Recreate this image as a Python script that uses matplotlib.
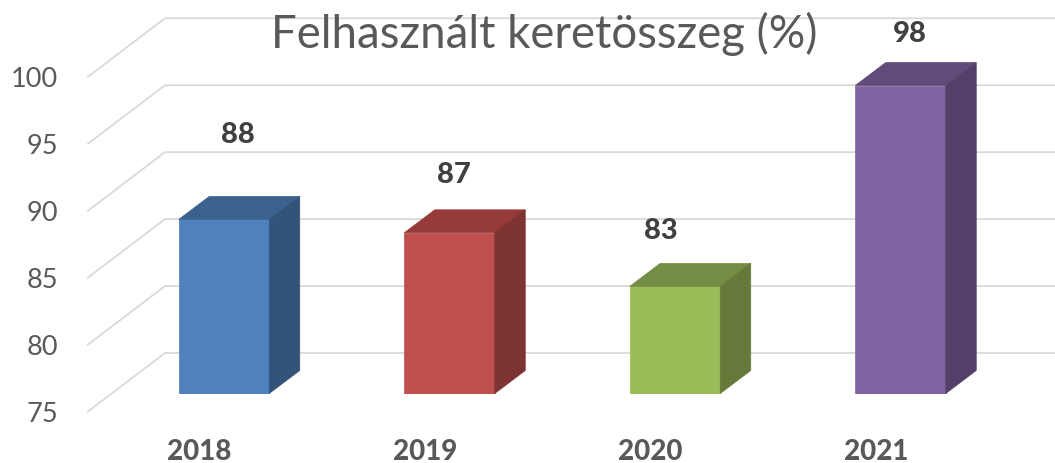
import numpy as np
import matplotlib
matplotlib.use("Agg")
import matplotlib.pyplot as plt
from matplotlib.patches import Polygon, Rectangle
from matplotlib.transforms import ScaledTranslation

TITLE = "Felhasznált keretösszeg (%)"
years = ["2018", "2019", "2020", "2021"]
values = [88, 87, 83, 98]
y_ticks = [75, 80, 85, 90, 95, 100]
front_colors = ["#4f81bd", "#c0504d", "#9bbb59", "#8064a2"]
top_colors = ["#3b618e", "#953a38", "#748c43", "#604b7a"]
side_colors = ["#325479", "#7c3331", "#64793a", "#524069"]
label_offsets_px = [(14, 21), (4, -5), (-14, -8), (9, -11)]

W, H = 1055, 463
DPI = 100
plt.rcParams["font.family"] = ["Lato", "DejaVu Sans"]
fig = plt.figure(figsize=(W / DPI, H / DPI), dpi=DPI, facecolor="white")

PX_X = 225.5
PX_Y = 13.39
X0, BASE = 224.0, 393.5
L = 88.0
ax = fig.add_axes([L / W, (H - BASE) / H, (W - L) / W, BASE / H])
ax.set_xlim((L - X0) / PX_X, (W - X0) / PX_X)
ax.set_ylim(75, 75 + BASE / PX_Y)
for s in ax.spines.values():
    s.set_visible(False)
ax.patch.set_alpha(0)

bw = 90.5 / PX_X
dx = 30.5 / PX_X
dy = 23 / PX_Y

# walls and gridlines
x_front, x_back, x_end = ax.get_xlim()[0], (165 - X0) / PX_X, ax.get_xlim()[1]
for v in y_ticks:
    yb = v + 40.5 / PX_Y
    yf = v - 18 / PX_Y
    ax.plot([x_front, x_back, x_end], [yf, yb, yb], color="#d9d9d9", lw=1.3,
            clip_on=False, zorder=1, solid_joinstyle="miter")

# bars
for i, (v, cf, ct, cs) in enumerate(zip(values, front_colors, top_colors, side_colors)):
    xl, xr = i - bw / 2, i + bw / 2
    ax.add_patch(Rectangle((xl, 75), bw, v - 75, fc=cf, ec=cf, lw=0.5, zorder=3))
    ax.add_patch(Polygon([(xl, v), (xr, v), (xr + dx, v + dy), (xl + dx, v + dy)],
                         fc=ct, ec=ct, lw=0.5, zorder=3))
    ax.add_patch(Polygon([(xr, 75), (xr + dx, 75 + dy), (xr + dx, v + dy), (xr, v)],
                         fc=cs, ec=cs, lw=0.5, zorder=3))
    ox, oy = label_offsets_px[i]
    ax.annotate(str(v), (i, v + dy), xytext=(ox * 72 / DPI, (40 + oy) * 72 / DPI),
                textcoords="offset points", ha="center", va="center",
                fontsize=21, fontweight=900, color="#404040", zorder=5,
                annotation_clip=False)

# axes labels
ax.set_yticks(y_ticks, [str(t) for t in y_ticks])
ax.set_xticks(range(len(years)), years)
ax.tick_params(axis="y", length=0, pad=21.5, labelsize=19.5, labelcolor="#595959")
ax.tick_params(axis="x", length=0, pad=32.5, labelsize=20, labelcolor="#595959")
shift_y = ScaledTranslation(0, -18.5 / DPI, fig.dpi_scale_trans)
for t in ax.get_yticklabels():
    t.set_transform(t.get_transform() + shift_y)
shift_x = ScaledTranslation(-24.5 / DPI, 0, fig.dpi_scale_trans)
for t in ax.get_xticklabels():
    t.set_transform(t.get_transform() + shift_x)
    t.set_fontweight(900)

fig.suptitle(TITLE, x=544.5 / W, y=1 - 33.5 / H, va="center", ha="center",
             fontsize=32.9, color="#595959")
fig.savefig("out.png", dpi=DPI, facecolor="white")
